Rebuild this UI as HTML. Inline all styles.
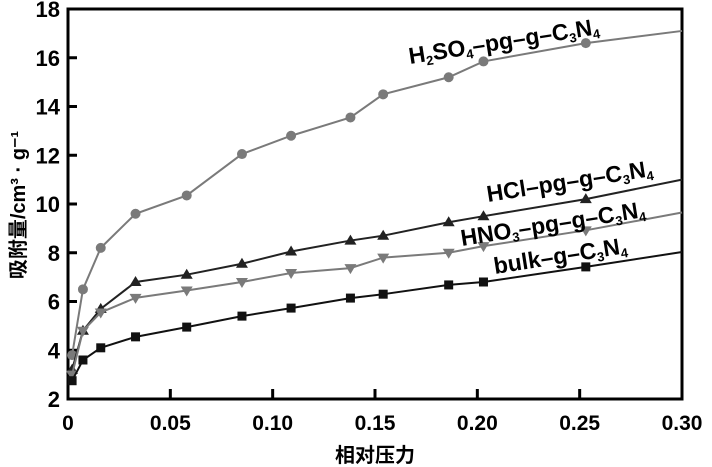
<!DOCTYPE html>
<html><head><meta charset="utf-8"><style>
body{margin:0;background:#fff;}
svg{display:block;font-family:"Liberation Sans","Noto Sans CJK SC",sans-serif;font-weight:bold;}
</style></head><body>
<svg id="chart" width="712" height="467" viewBox="0 0 712 467">
<g id="axes"></g><g id="series"></g><g id="labels"></g>
</svg>
<script>
const xVals=[0.002,0.0073,0.016,0.033,0.058,0.085,0.109,0.138,0.154,0.186,0.203,0.253,0.30];
const h2so4=[3.8,6.5,8.2,9.6,10.35,12.05,12.8,13.55,14.5,15.2,15.85,16.6,17.1];
const hcl=[3.2,4.8,5.7,6.8,7.1,7.55,8.05,8.5,8.7,9.25,9.5,10.2,11.0];
const hno3=[3.0,4.8,5.55,6.15,6.45,6.8,7.17,7.37,7.8,8.0,8.27,8.92,9.65];
const bulk=[2.75,3.6,4.1,4.55,4.95,5.4,5.73,6.14,6.3,6.68,6.8,7.42,8.03];
const xTicks=[0,0.05,0.10,0.15,0.20,0.25,0.30];
const xTickLabels=["0","0.05","0.10","0.15","0.20","0.25","0.30"];
const yTicks=[2,4,6,8,10,12,14,16,18];
const L=68,R=682,T=9,B=399;
const sx=v=>L+(v-0)/0.30*(R-L);
const sy=v=>B-(v-2)/16*(B-T);
const NS="http://www.w3.org/2000/svg";
function mk(tag,attrs,parent,text){const e=document.createElementNS(NS,tag);for(const k in attrs)e.setAttribute(k,attrs[k]);if(text!==undefined)e.textContent=text;parent.appendChild(e);return e;}
const axes=document.getElementById('axes');
const frame=mk('rect',{x:L,y:T,width:R-L,height:B-T,fill:'none',stroke:'#000','stroke-width':3},axes);


xTicks.forEach((t,i)=>{
  if(i>0&&i<xTicks.length-1){const l=mk('line',{x1:sx(t),x2:sx(t),y1:B,y2:B-10,stroke:'#000','stroke-width':3},axes);
  
  }
  const tx=mk('text',{x:sx(t),y:430,'text-anchor':'middle','font-size':21},axes,xTickLabels[i]);
  
  
});
yTicks.forEach(t=>{
  if(t>2&&t<18){const l=mk('line',{x1:L,x2:L+9,y1:sy(t),y2:sy(t),stroke:'#000','stroke-width':3},axes);
  
  }
  const tx=mk('text',{x:60,y:sy(t)+8,'text-anchor':'end','font-size':22},axes,String(t));
  
  
});
const xt=mk('text',{x:375,y:462,'text-anchor':'middle','font-size':20},axes,'相对压力');


const yt=mk('text',{x:0,y:0,'text-anchor':'middle','font-size':20,transform:'translate(25,205) rotate(-90)'},axes,'吸附量/cm³ · g⁻¹');


const series=[
 {name:'h2so4',data:h2so4,color:'#7a7a7a',marker:'circle'},
 {name:'hcl',data:hcl,color:'#222',marker:'up'},
 {name:'hno3',data:hno3,color:'#7a7a7a',marker:'down'},
 {name:'bulk',data:bulk,color:'#111',marker:'square'}];
const sg=document.getElementById('series');
series.forEach(s=>{
  const g=mk('g',{},sg);
  
  
  const pts=xVals.map((x,i)=>sx(x)+','+sy(s.data[i])).join(' ');
  const pl=mk('polyline',{points:pts,fill:'none',stroke:s.color,'stroke-width':2},g);
  
  
  xVals.forEach((x,i)=>{
    if(i===xVals.length-1)return;
    const cx=sx(x),cy=sy(s.data[i]);let m;
    if(s.marker==='circle')m=mk('circle',{cx:cx,cy:cy,r:5,fill:s.color},g);
    else if(s.marker==='square')m=mk('rect',{x:cx-4.5,y:cy-4.5,width:9,height:9,fill:s.color},g);
    else if(s.marker==='up')m=mk('polygon',{points:`${cx},${cy-6} ${cx-6},${cy+4} ${cx+6},${cy+4}`,fill:s.color},g);
    else m=mk('polygon',{points:`${cx},${cy+6} ${cx-6},${cy-4} ${cx+6},${cy-4}`,fill:s.color},g);
    
    
  });
});
const lg=document.getElementById('labels');
const labs=[
 ['h2so4-label',410,64,'H<tspan font-size="13" dy="4">2</tspan><tspan dy="-4">SO</tspan><tspan font-size="13" dy="4">4</tspan><tspan dy="-4">–pg–g–C</tspan><tspan font-size="13" dy="4">3</tspan><tspan dy="-4">N</tspan><tspan font-size="13" dy="4">4</tspan>'],
 ['hcl-label',488,202,'HCl–pg–g–C<tspan font-size="13" dy="4">3</tspan><tspan dy="-4">N</tspan><tspan font-size="13" dy="4">4</tspan>'],
 ['hno3-label',462,246,'HNO<tspan font-size="13" dy="4">3</tspan><tspan dy="-4">–pg–g–C</tspan><tspan font-size="13" dy="4">3</tspan><tspan dy="-4">N</tspan><tspan font-size="13" dy="4">4</tspan>'],
 ['bulk-label',495,274,'bulk–g–C<tspan font-size="13" dy="4">3</tspan><tspan dy="-4">N</tspan><tspan font-size="13" dy="4">4</tspan>']];
labs.forEach(a=>{
  const t=mk('text',{x:a[1],y:a[2],'font-size':23,transform:`rotate(-9 ${a[1]} ${a[2]})`},lg);
  t.innerHTML=a[3];
  
  
});
</script>
</body></html>
